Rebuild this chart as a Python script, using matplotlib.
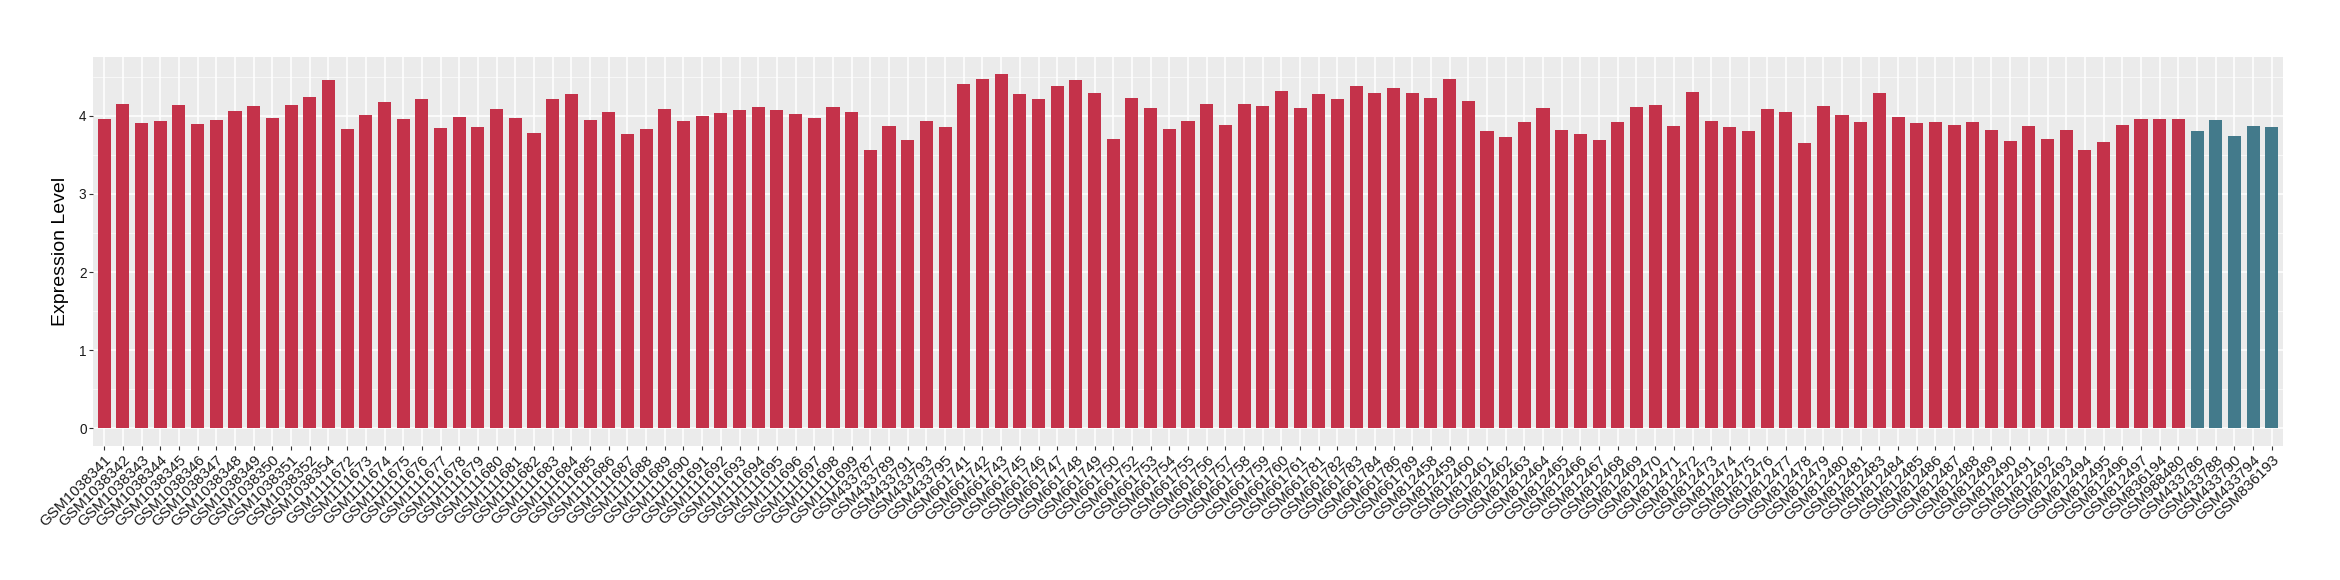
import matplotlib
matplotlib.use("Agg")
import matplotlib.pyplot as plt
from matplotlib.ticker import MultipleLocator

samples = (
    ["GSM10383%02d" % n for n in [41, 42, 43, 44, 45, 46, 47, 48, 49, 50, 51, 52, 54]]
    + ["GSM11116%02d" % n for n in range(72, 100)]
    + ["GSM433787", "GSM433789", "GSM433791", "GSM433793", "GSM433795"]
    + ["GSM661%03d" % n for n in [741, 742, 743, 745, 746, 747, 748, 749, 750, 752, 753,
                                   754, 755, 756, 757, 758, 759, 760, 761, 781, 782, 783,
                                   784, 786, 789]]
    + ["GSM812%03d" % n for n in list(range(458, 482)) + list(range(483, 498))]
    + ["GSM836194", "GSM988480"]
    + ["GSM433786", "GSM433788", "GSM433790", "GSM433794", "GSM836193"]
)

expression = [
    3.957, 4.149, 3.906, 3.932, 4.136, 3.893, 3.945, 4.060, 4.124, 3.970,
    4.136, 4.239, 4.456, 3.830, 4.009, 4.175, 3.957, 4.213, 3.842, 3.983,
    3.855, 4.085, 3.970, 3.778, 4.213, 4.277, 3.945, 4.047, 3.767, 3.831,
    4.085, 3.932, 3.996, 4.034, 4.072, 4.110, 4.072, 4.021, 3.970, 4.110,
    4.047, 3.564, 3.869, 3.691, 3.932, 3.856, 4.403, 4.466, 4.530, 4.275,
    4.212, 4.377, 4.453, 4.288, 3.703, 4.225, 4.097, 3.831, 3.932, 4.148,
    3.881, 4.148, 4.123, 4.314, 4.097, 4.275, 4.212, 4.377, 4.288, 4.352,
    4.288, 4.225, 4.466, 4.186, 3.805, 3.729, 3.919, 4.097, 3.818, 3.767,
    3.691, 3.919, 4.110, 4.136, 3.869, 4.301, 3.932, 3.856, 3.805, 4.085,
    4.047, 3.653, 4.123, 4.008, 3.919, 4.288, 3.983, 3.907, 3.919, 3.881,
    3.919, 3.818, 3.678, 3.869, 3.703, 3.818, 3.564, 3.665, 3.881, 3.958,
    3.958, 3.958,
    3.805, 3.945, 3.742, 3.869, 3.856,
]

group = ["case"] * 112 + ["control"] * 5
group_colors = {"case": "#C4324A", "control": "#437A8B"}

plt.rcParams["font.family"] = ["Liberation Sans", "DejaVu Sans"]

W, H = 2340, 580
fig = plt.figure(figsize=(W / 100, H / 100), dpi=100)
left, right, top, bottom = 93, 2283, 56.7, 446
ax = fig.add_axes([left / W, 1 - bottom / H, (right - left) / W, (bottom - top) / H])

ax.set_facecolor("#EBEBEB")
x = list(range(len(samples)))
ax.bar(x, expression, width=0.7, color=[group_colors[g] for g in group], zorder=3)

ymax = max(expression)
ax.set_xlim(-0.6, len(samples) - 1 + 0.6)
ax.set_ylim(-0.05 * ymax, ymax * 1.05)

ax.yaxis.set_major_locator(MultipleLocator(1))
ax.yaxis.set_minor_locator(MultipleLocator(0.5))
ax.set_xticks(x)
ax.set_xticklabels(samples, rotation=45, ha="right", va="top",
                   rotation_mode="anchor", fontsize=11, color="#1A1A1A")
ax.tick_params(axis="x", length=3, width=0.8, color="#333333", pad=2)
ax.tick_params(axis="y", which="major", length=2.6, width=0.8, color="#333333",
               labelsize=9.8, labelcolor="#1A1A1A", pad=2)
ax.tick_params(axis="y", which="minor", length=0)

ax.grid(True, which="major", color="white", linewidth=1.1, zorder=0)
ax.grid(True, which="minor", axis="y", color="white", linewidth=0.55, alpha=0.8, zorder=0)
ax.set_axisbelow(True)
for s in ax.spines.values():
    s.set_visible(False)

ax.set_ylabel("Expression Level", fontsize=14, color="black", labelpad=7)

fig.savefig("out.png", dpi=100, facecolor="white")
